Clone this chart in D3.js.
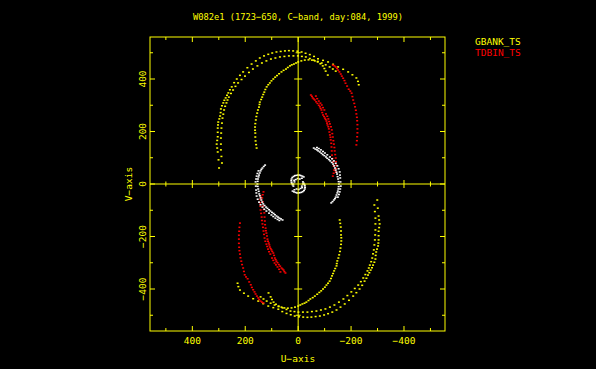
<!DOCTYPE html>
<head>
    <meta charset="utf-8">
</head>
<style>
    body { margin: 0; background: #000; }
    svg { display: block; background: #000; }
    text { font-family: "DejaVu Sans Mono", monospace; font-size: 9.5px; fill: #ffff00; }
</style>

<svg id="uv" width="596" height="369"></svg>

<script src="https://cdn.jsdelivr.net/npm/d3@7/dist/d3.min.js"></script>
<script>

    var title = "W082e1 (1723\u2212650, C\u2212band, day:084, 1999)";
    var xTicks = [400, 200, 0, -200, -400];
    var xTickLabels = ["400", "200", "0", "\u2212200", "\u2212400"];
    var yTicks = [400, 200, 0, -200, -400];
    var yTickLabels = ["400", "200", "0", "\u2212200", "\u2212400"];
    var minorTicks = [-500, -300, -100, 100, 300, 500];

    var gbank1 = [[299, 61], [301, 92], [304, 122], [306, 137], [308, 152], [306, 166], [304, 180], [304, 197],
        [304, 213], [303, 225], [302, 236], [298, 248], [295, 259], [293, 272], [292, 286], [288, 298],
        [283, 309], [279, 319], [274, 328], [269, 338], [264, 347], [258, 359], [251, 370], [242, 386],
        [232, 400], [220, 414], [208, 427], [192, 443], [176, 457], [160, 469], [145, 480], [129, 488],
        [113, 494], [98, 499], [82, 503], [66, 505], [50, 507], [35, 508], [19, 507], [3, 506], [-13, 503],
        [-28, 498], [-44, 493], [-60, 486], [-75, 477], [-94, 471], [-113, 465], [-132, 456], [-151, 446],
        [-170, 437], [-189, 427], [-205, 416], [-220, 404], [-226, 391], [-229, 378]];
    var gbank2 = [[288, 80], [290, 105], [292, 130], [292, 152], [292, 175], [291, 194], [290, 213], [288, 232],
        [286, 251], [283, 266], [280, 282], [276, 296], [271, 309], [267, 320], [262, 331], [254, 345],
        [246, 358], [237, 372], [227, 385], [214, 398], [201, 411], [186, 425], [171, 438], [154, 450],
        [137, 461], [120, 469], [103, 476], [86, 480], [69, 484], [52, 486], [35, 488], [18, 488],
        [1, 488], [-14, 486], [-29, 484], [-44, 478], [-59, 472], [-74, 467], [-89, 461], [-104, 454],
        [-119, 446], [-131, 438], [-142, 430]];
    var gbank3 = [[157, 137], [159, 150], [161, 164], [162, 179], [162, 194], [163, 205], [163, 217], [162, 230],
        [160, 244], [158, 257], [155, 270], [152, 282], [148, 293], [146, 303], [145, 312], [140, 322],
        [136, 331], [132, 341], [128, 350], [124, 360], [119, 370], [113, 378], [107, 385], [101, 393],
        [94, 400], [87, 407], [80, 413], [72, 420], [63, 427], [55, 433], [46, 438], [39, 444], [31, 450],
        [24, 454], [16, 457], [8, 461], [0, 465], [-12, 469], [-25, 472], [-39, 473], [-52, 472], [-63, 469],
        [-74, 465], [-84, 458], [-93, 450], [-99, 440], [-104, 430], [-112, 415]];
    var tdbin1 = [[-131, 453], [-137, 450], [-142, 446], [-147, 440], [-151, 434], [-156, 427], [-161, 419],
        [-165, 411], [-170, 403], [-175, 394], [-179, 384], [-185, 373], [-191, 361], [-197, 354], [-202, 346],
        [-205, 333], [-208, 320], [-212, 307], [-215, 294], [-218, 281], [-220, 267], [-222, 254], [-223, 241],
        [-224, 226], [-224, 210], [-224, 195], [-223, 180], [-222, 165], [-220, 149]];
    var tdbin2 = [[-48, 339], [-52, 334], [-55, 328], [-59, 324], [-63, 320], [-68, 313], [-73, 307], [-78, 300],
        [-82, 294], [-85, 288], [-88, 282], [-91, 272], [-94, 263], [-98, 257], [-101, 251], [-104, 246],
        [-107, 240], [-109, 232], [-111, 225], [-114, 218], [-116, 210], [-118, 198], [-120, 187], [-122, 178],
        [-123, 168], [-125, 155], [-126, 141], [-127, 126], [-128, 110], [-130, 97], [-132, 84], [-134, 68],
        [-136, 53], [-134, 41], [-131, 30]];
    var tdbin3 = [[-67, 335], [-72, 325], [-78, 316], [-84, 308], [-89, 301], [-94, 291], [-99, 282], [-105, 267],
        [-110, 258], [-114, 248], [-117, 238], [-120, 229], [-124, 218], [-127, 206], [-129, 192], [-131, 179],
        [-133, 165], [-135, 152], [-137, 139], [-138, 126], [-140, 112], [-142, 99], [-143, 85], [-144, 72],
        [-143, 59], [-142, 46]];
    var short1 = [[-59, 137], [-65, 133], [-71, 130], [-76, 126], [-82, 122], [-88, 117], [-93, 112], [-99, 108],
        [-105, 103], [-110, 98], [-116, 93], [-121, 88], [-127, 82], [-132, 76], [-136, 69], [-139, 61],
        [-142, 53], [-145, 45], [-147, 38], [-149, 28], [-151, 19], [-153, 9], [-154, 0], [-153, -10],
        [-152, -19], [-150, -27], [-148, -34], [-145, -42], [-142, -50], [-139, -56], [-135, -61], [-130, -67],
        [-125, -72]];
    var short2 = [[-71, 139], [-78, 135], [-86, 130], [-94, 124], [-101, 118], [-110, 111], [-120, 103], [-128, 96],
        [-135, 88], [-142, 79], [-148, 69], [-153, 58], [-157, 46], [-158, 34], [-159, 23], [-160, 8],
        [-161, -8], [-159, -19], [-157, -30], [-154, -40], [-150, -50]];
    var short3 = [[-21, 27], [-16, 30], [-10, 32], [-5, 34], [1, 34], [6, 33], [12, 32], [17, 29], [22, 25],
        [25, 19], [26, 13], [25, 7], [24, 2], [21, -3], [18, -8], [-14, 22], [-6, 19], [2, 21], [9, 17],
        [14, 8], [15, 14], [18, 0]];

    var series = [
        {name: "GBANK_TS", color: "#ffff00", tracks: [gbank1, gbank2, gbank3]},
        {name: "TDBIN_TS", color: "#ff0000", tracks: [tdbin1, tdbin2, tdbin3]},
        {name: "", color: "#ffffff", tracks: [short1, short2, short3]}
    ];

    var svg = d3.select("#uv");
    var yellow = "#ffff00";

    var x = d3.scaleLinear().domain([560, -555]).range([150, 445]);
    var y = d3.scaleLinear().domain([-560, 560]).range([331, 37]);

    // points
    series.forEach(function (s) {
        var pts = [];
        s.tracks.forEach(function (t) {
            t.forEach(function (p) {
                pts.push(p);
                pts.push([-p[0], -p[1]]);
            });
        });
        svg.append("g").selectAll("rect")
            .data(pts)
            .enter().append("rect")
            .attr("x", function (d) { return x(d[0]) - 1; })
            .attr("y", function (d) { return y(d[1]) - 0.75; })
            .attr("width", 2)
            .attr("height", 1.5)
            .attr("fill", s.color);
    });

    var ax = svg.append("g").attr("stroke", yellow).attr("stroke-width", 1).attr("fill", "none");

    // frame
    ax.append("rect")
        .attr("x", x.range()[0]).attr("y", y.range()[1])
        .attr("width", x.range()[1] - x.range()[0])
        .attr("height", y.range()[0] - y.range()[1]);

    // zero lines
    ax.append("line").attr("x1", x.range()[0]).attr("x2", x.range()[1]).attr("y1", y(0)).attr("y2", y(0));
    ax.append("line").attr("x1", x(0)).attr("x2", x(0)).attr("y1", y.range()[1]).attr("y2", y.range()[0]);

    function ticks(vals, len, half) {
        vals.forEach(function (v) {
            // bottom and top frame
            ax.append("line").attr("x1", x(v)).attr("x2", x(v)).attr("y1", y.range()[0]).attr("y2", y.range()[0] - len);
            ax.append("line").attr("x1", x(v)).attr("x2", x(v)).attr("y1", y.range()[1]).attr("y2", y.range()[1] + len);
            // left and right frame
            ax.append("line").attr("y1", y(v)).attr("y2", y(v)).attr("x1", x.range()[0]).attr("x2", x.range()[0] + len);
            ax.append("line").attr("y1", y(v)).attr("y2", y(v)).attr("x1", x.range()[1]).attr("x2", x.range()[1] - len);
            if (v !== 0) {
                ax.append("line").attr("x1", x(v)).attr("x2", x(v)).attr("y1", y(0) - half).attr("y2", y(0) + half);
                ax.append("line").attr("y1", y(v)).attr("y2", y(v)).attr("x1", x(0) - half).attr("x2", x(0) + half);
            }
        });
    }
    ticks(xTicks, 5, 4);
    ticks(minorTicks, 3, 2.5);

    // tick labels
    svg.append("g").selectAll("text")
        .data(xTicks)
        .enter().append("text")
        .attr("x", function (d) { return x(d); })
        .attr("y", 343.5)
        .attr("text-anchor", "middle")
        .text(function (d, i) { return xTickLabels[i]; });

    svg.append("g").selectAll("text")
        .data(yTicks)
        .enter().append("text")
        .attr("text-anchor", "middle")
        .attr("transform", function (d) { return "translate(145.5," + y(d) + ") rotate(-90)"; })
        .text(function (d, i) { return yTickLabels[i]; });

    svg.append("text")
        .attr("x", 298).attr("y", 362)
        .attr("text-anchor", "middle")
        .text("U\u2212axis");

    svg.append("text")
        .attr("text-anchor", "middle")
        .attr("transform", "translate(132," + y(0) + ") rotate(-90)")
        .text("V\u2212axis");

    svg.append("text")
        .attr("x", 193).attr("y", 20)
        .attr("textLength", 210)
        .attr("lengthAdjust", "spacingAndGlyphs")
        .text(title);

    // legend
    svg.append("g").selectAll("text")
        .data(series.filter(function (s) { return s.name; }))
        .enter().append("text")
        .attr("x", 475)
        .attr("y", function (d, i) { return 45 + i * 11; })
        .style("fill", function (d) { return d.color; })
        .text(function (d) { return d.name; });

</script>
